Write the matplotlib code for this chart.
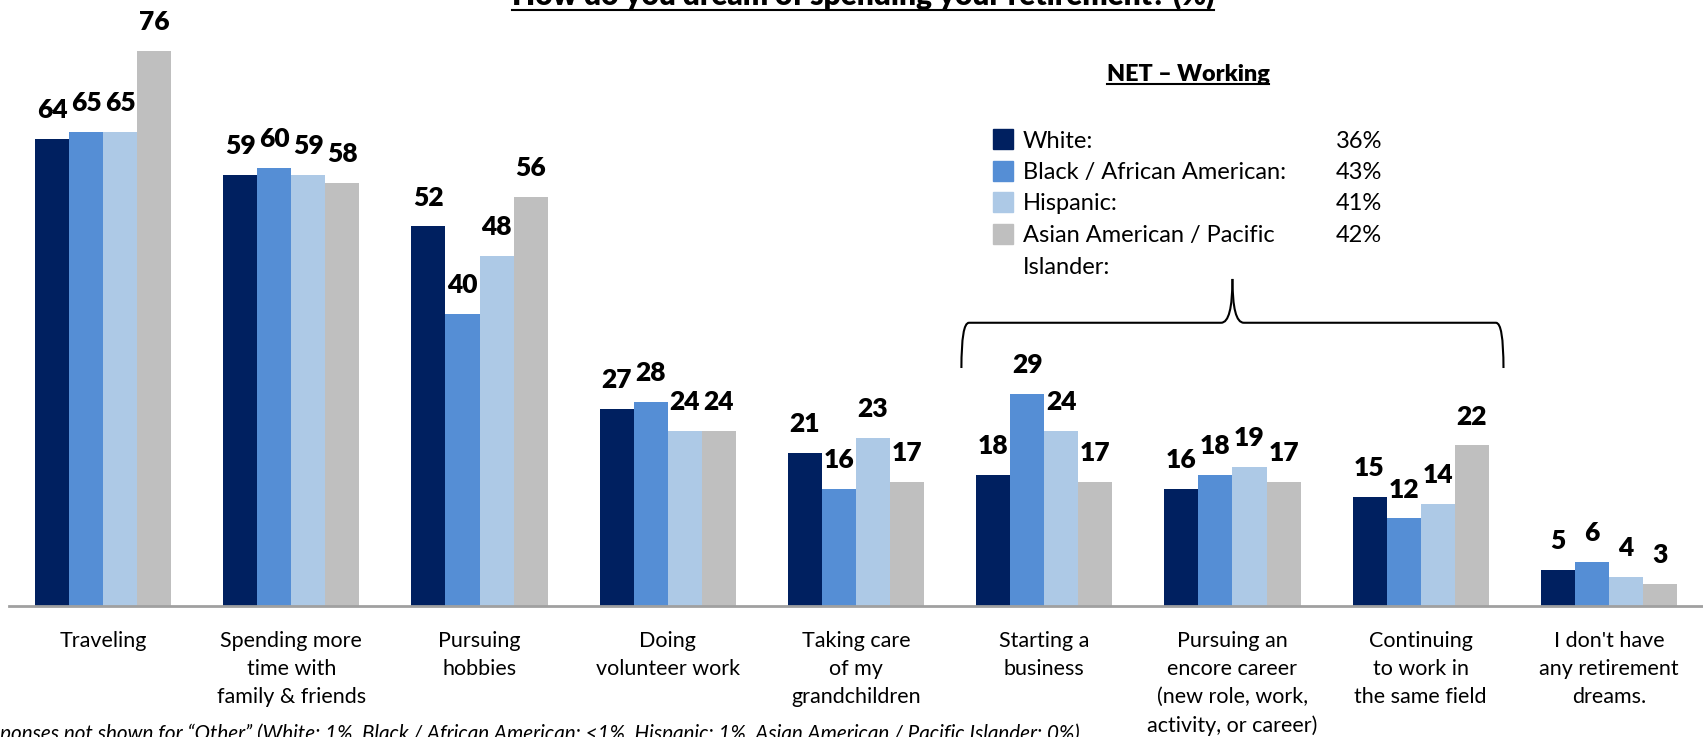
import matplotlib
matplotlib.use("Agg")
import matplotlib.pyplot as plt
from matplotlib.lines import Line2D
from matplotlib.patches import Rectangle, PathPatch
from matplotlib.path import Path
import numpy as np

categories = ["Traveling", "Spending more\ntime with\nfamily & friends", "Pursuing\nhobbies",
              "Doing\nvolunteer work", "Taking care\nof my\ngrandchildren", "Starting a\nbusiness",
              "Pursuing an\nencore career\n(new role, work,\nactivity, or career)",
              "Continuing\nto work in\nthe same field", "I don't have\nany retirement\ndreams."]
series_names = ["White:", "Black / African American:", "Hispanic:", "Asian American / Pacific", "Islander:"]
white = [64, 59, 52, 27, 21, 18, 16, 15, 5]
black = [65, 60, 40, 28, 16, 29, 18, 12, 6]
hispanic = [65, 59, 48, 24, 23, 24, 19, 14, 4]
asian = [76, 58, 56, 24, 17, 17, 17, 22, 3]
net_working = ["36%", "43%", "41%", "42%"]
title = "How do you dream of spending your retirement? (%)"
footnote = "Responses not shown for \u201cOther\u201d (White: 1%, Black / African American: <1%, Hispanic: 1%, Asian American / Pacific Islander: 0%)"

colors = ["#002060", "#558ED5", "#ADC9E6", "#BFBFBF"]
FONT = "Lato"

W, H = 1703, 737
fig = plt.figure(figsize=(W / 100, H / 100), dpi=100)
ax_left, ax_bottom = 9 / W, (H - 606) / H
ax_h_px = 80 * 7.3
ax = fig.add_axes([ax_left, ax_bottom, 1 - ax_left, ax_h_px / H])
ax.set_xlim(-0.5, 8.5)
ax.set_ylim(0, 80)
ax.axis("off")

bw = 0.181
x = np.arange(len(categories))
all_series = [white, black, hispanic, asian]
for i, vals in enumerate(all_series):
    xs = x + (i - 1.5) * bw
    ax.bar(xs, vals, width=bw, color=colors[i], zorder=2)
    for xx, v in zip(xs, vals):
        ax.annotate(str(v), (xx, v), xytext=(0, 15), textcoords="offset points",
                    ha="center", va="baseline", fontsize=19, fontweight="heavy",
                    family=FONT, color="black", clip_on=False)

ax.axhline(0, color="#A0A0A0", lw=2, zorder=3, clip_on=False)

for xx, c in zip(x, categories):
    ax.text(xx, -25 / ax_h_px, c, transform=ax.get_xaxis_transform(), ha="center", va="top",
            fontsize=15.5, family=FONT, linespacing=1.5)


def brace(ax, x0, x1, ybase, ytop, ytip, r=0.04):
    xm = (x0 + x1) / 2
    left = Path([(x0, ybase), (x0, ytop), (x0 + r, ytop), (xm - 0.06, ytop), (xm, ytop), (xm, ytip)],
                [Path.MOVETO, Path.CURVE3, Path.CURVE3, Path.LINETO, Path.CURVE3, Path.CURVE3])
    right = Path([(x1, ybase), (x1, ytop), (x1 - r, ytop), (xm + 0.06, ytop), (xm, ytop), (xm, ytip)],
                 [Path.MOVETO, Path.CURVE3, Path.CURVE3, Path.LINETO, Path.CURVE3, Path.CURVE3])
    for p in (left, right):
        ax.add_patch(PathPatch(p, fill=False, lw=1.5, color="black", clip_on=False))


brace(ax, 4.56, 7.44, 32.6, 38.8, 44.8)

fig_px = lambda px, py: (px / W, 1 - py / H)
tt = fig.text(*fig_px(863, 5), title, ha="center", va="baseline", fontsize=21.5,
              fontweight="heavy", family=FONT)
nt = fig.text(*fig_px(1188, 81), "NET \u2013 Working", ha="center", va="baseline",
              fontsize=16.8, fontweight="heavy", family=FONT)

row_y = [139, 170.5, 202, 233.5, 265]
for i in range(4):
    fig.patches.append(Rectangle(fig_px(993, row_y[i] + 10), 20 / W, 20 / H,
                                 transform=fig.transFigure, color=colors[i], figure=fig))
    fig.text(*fig_px(1336, row_y[i]), net_working[i], ha="left", va="center_baseline",
             fontsize=17, family=FONT)
for i, name in enumerate(series_names):
    fig.text(*fig_px(1023, row_y[i]), name, ha="left", va="center_baseline", fontsize=17,
             family=FONT)

fn = fig.text(-30 / W, -3 / H, footnote, ha="left", va="baseline", fontsize=14.9,
              style="italic", family=FONT)

fig.canvas.draw()
r = fig.canvas.get_renderer()
for t, off in ((tt, 4), (nt, 3)):
    bb = t.get_window_extent(r)
    yline = (bb.y0 + 4 - off) / H
    fig.add_artist(Line2D([bb.x0 / W, bb.x1 / W], [yline, yline],
                          transform=fig.transFigure, color="black", lw=1.5))

fig.savefig("out.png", dpi=100)
